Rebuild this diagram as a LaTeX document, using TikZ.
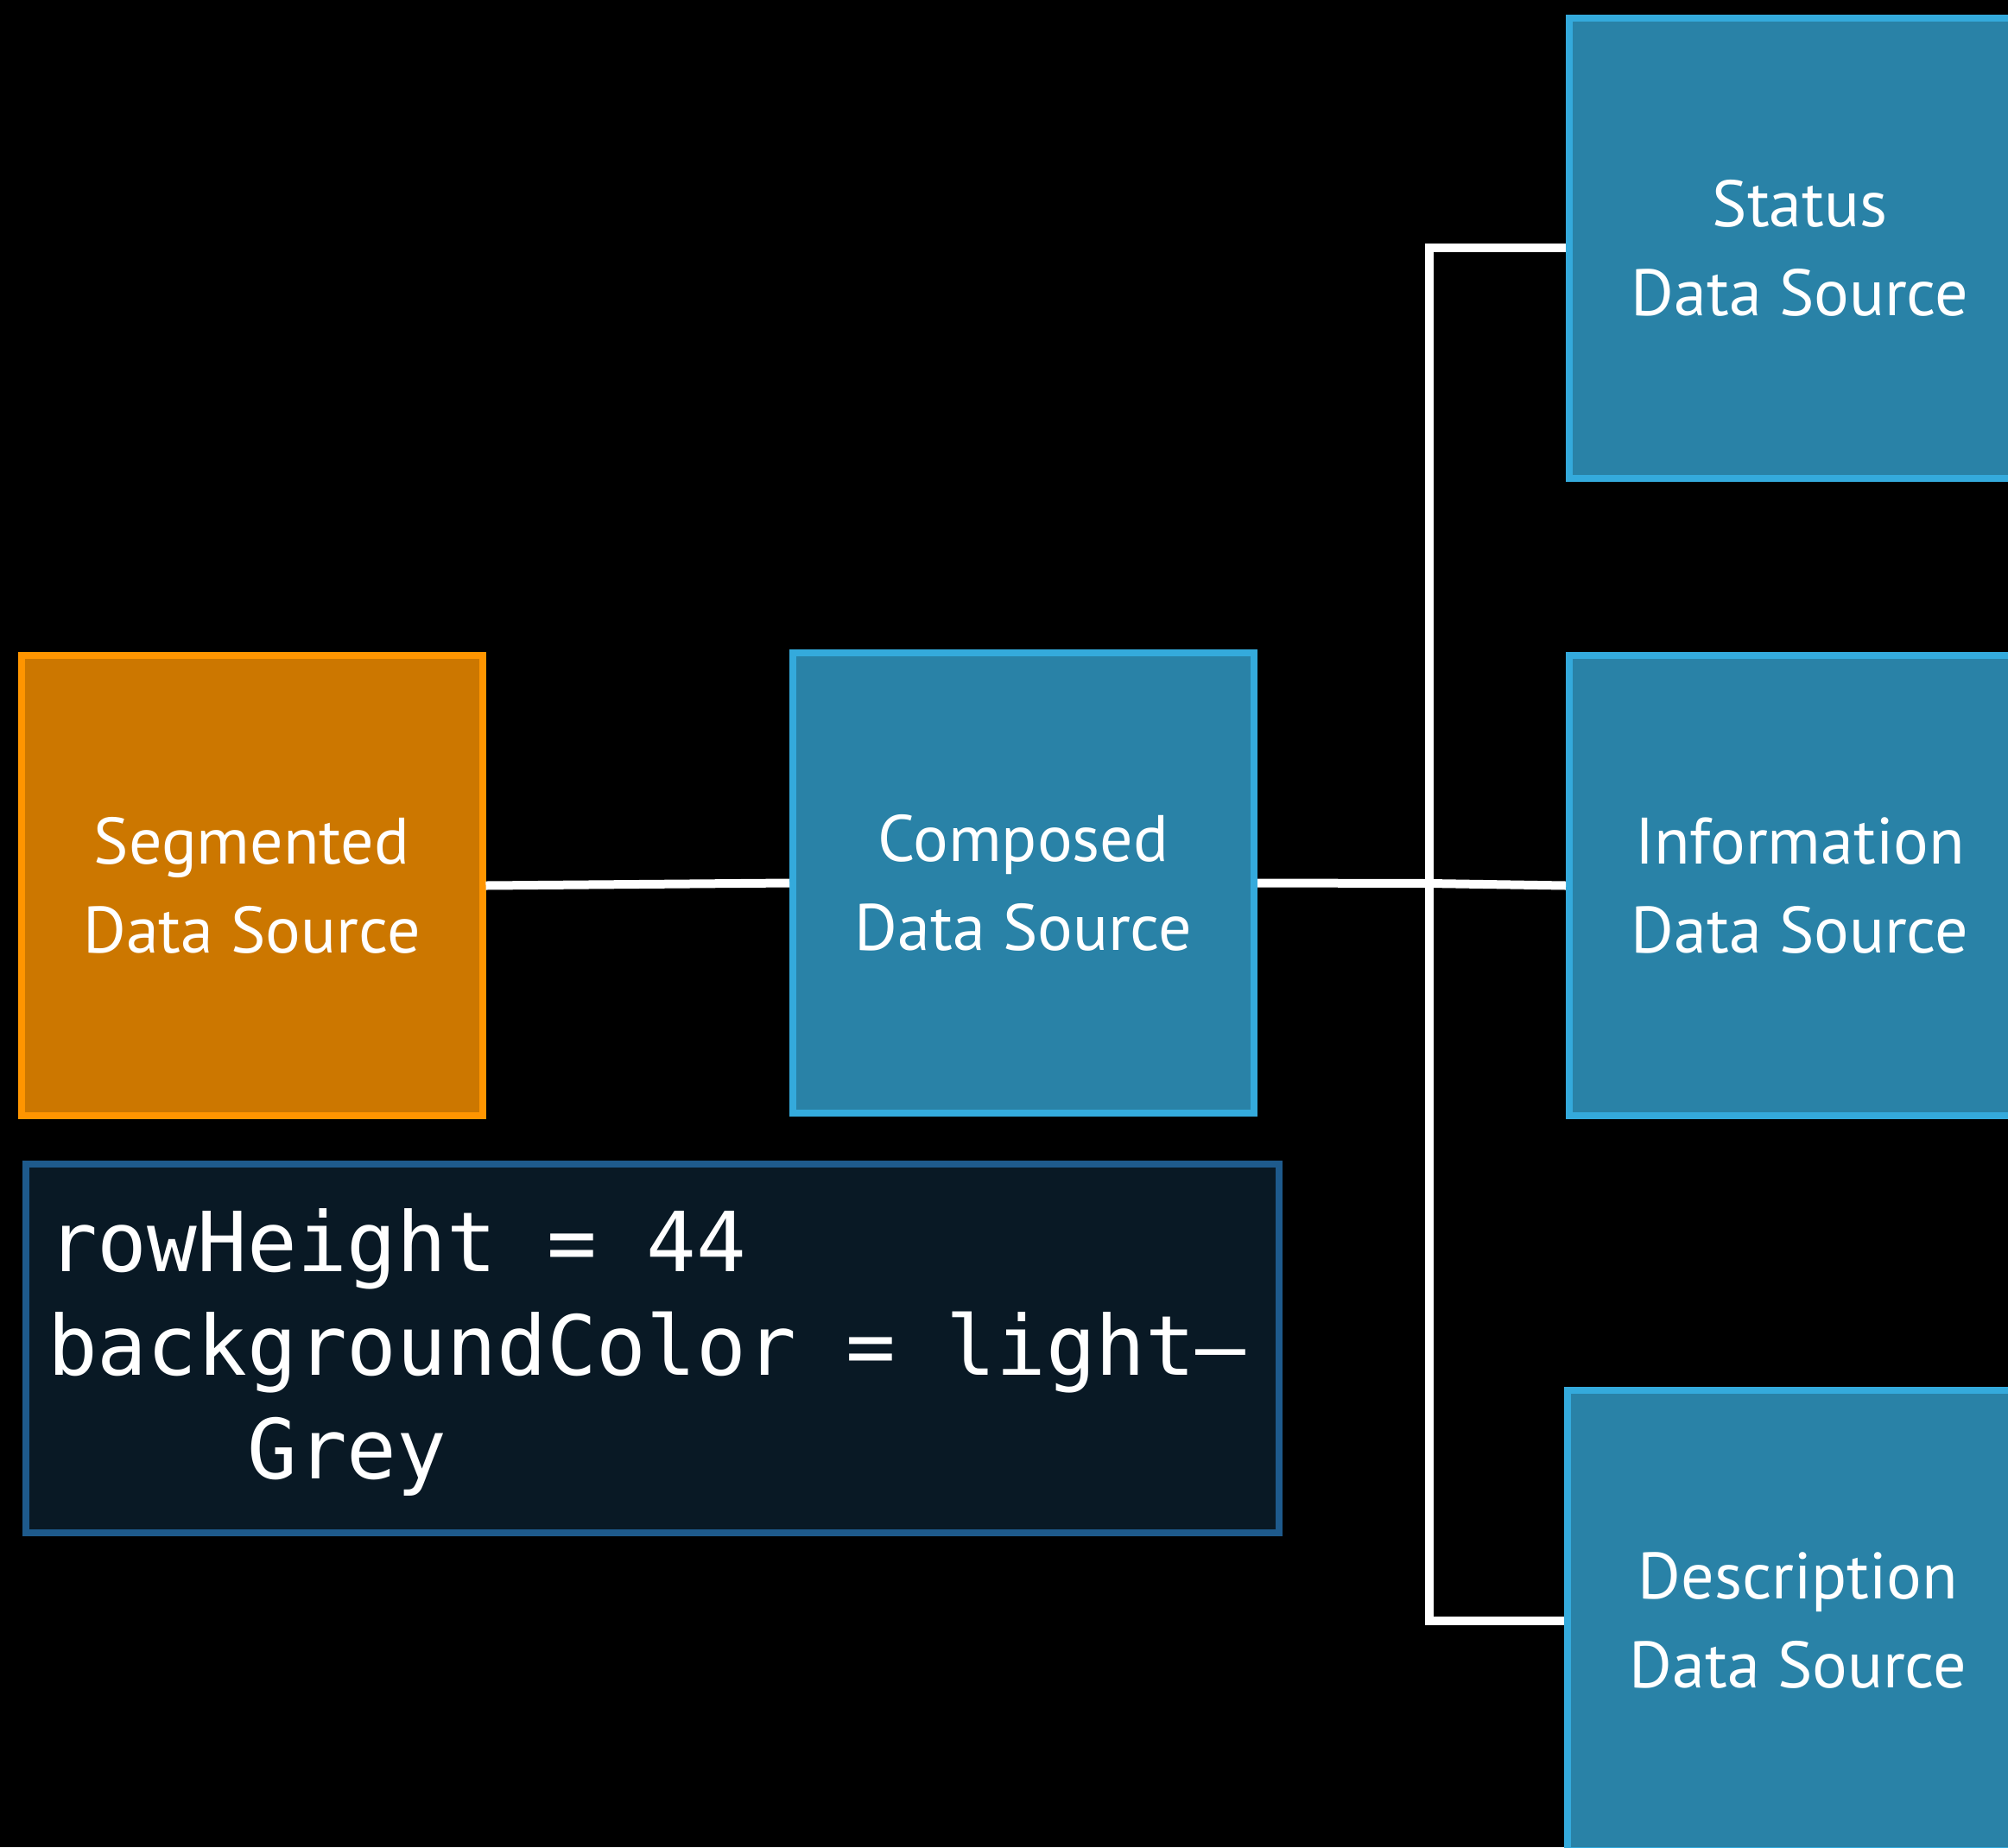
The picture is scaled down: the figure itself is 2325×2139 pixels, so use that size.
\documentclass[tikz,border=0pt]{standalone}
\usepackage{fontspec}
\setmainfont{PT Sans}
\newfontfamily\codefont{DejaVu Sans Mono}
\definecolor{orfill}{HTML}{CC7700}
\definecolor{ordraw}{HTML}{FF9500}
\definecolor{blfill}{HTML}{2982A7}
\definecolor{bldraw}{HTML}{34AADC}
\definecolor{cdfill}{HTML}{091925}
\definecolor{cddraw}{HTML}{1E5A8C}
\tikzset{
  dsbox/.style={draw=bldraw, fill=blfill, line width=8pt, minimum width=534pt, minimum height=533pt,
    inner sep=0pt, align=center, text=white, font=\fontsize{76}{103}\selectfont},
  segbox/.style={dsbox, draw=ordraw, fill=orfill},
  codebox/.style={draw=cddraw, fill=cdfill, line width=8pt, minimum width=1451pt, minimum height=427pt, inner sep=0pt},
  codetext/.style={text=white, align=left, inner sep=0pt, font=\codefont\fontsize{96}{120}\selectfont},
  conn/.style={draw=white, line width=10pt, line join=miter}
}
\begin{document}
\begin{tikzpicture}[x=1pt,y=-1pt]
\useasboundingbox (0,0) rectangle (2325,2139);
\fill[black] (0,0) rectangle (2325,2139);
\clip (0,0) rectangle (2325,2139);
\node[segbox] (seg) at (291.5,1025.5) {Segmented\\Data Source};
\node[dsbox] (comp) at (1185,1022.5) {Composed\\Data Source};
\node[dsbox] (stat) at (2084,287) {Status\\Data Source};
\node[dsbox] (info) at (2084,1025.5) {Information\\Data Source};
\node[dsbox] (desc) at (2082,1876.5) {Description\\Data Source};
\node[codebox] (code) at (755.5,1561.5) {};
\node[codetext, anchor=base west] (codetxt) at (55,1712) {rowHeight = 44\\backgroundColor = light–\\\phantom{xxxx}Grey};
\coordinate (jtop) at (1655,287);
\coordinate (jmid) at (1655,1023);
\coordinate (jbot) at (1655,1876.5);
\draw[conn] (seg.east) -- (comp.west);
\draw[conn] (comp.east) -- (jmid) -- (info.west);
\draw[conn] (stat.west) -- (jtop) -- (jbot) -- (desc.west);
\end{tikzpicture}
\end{document}
